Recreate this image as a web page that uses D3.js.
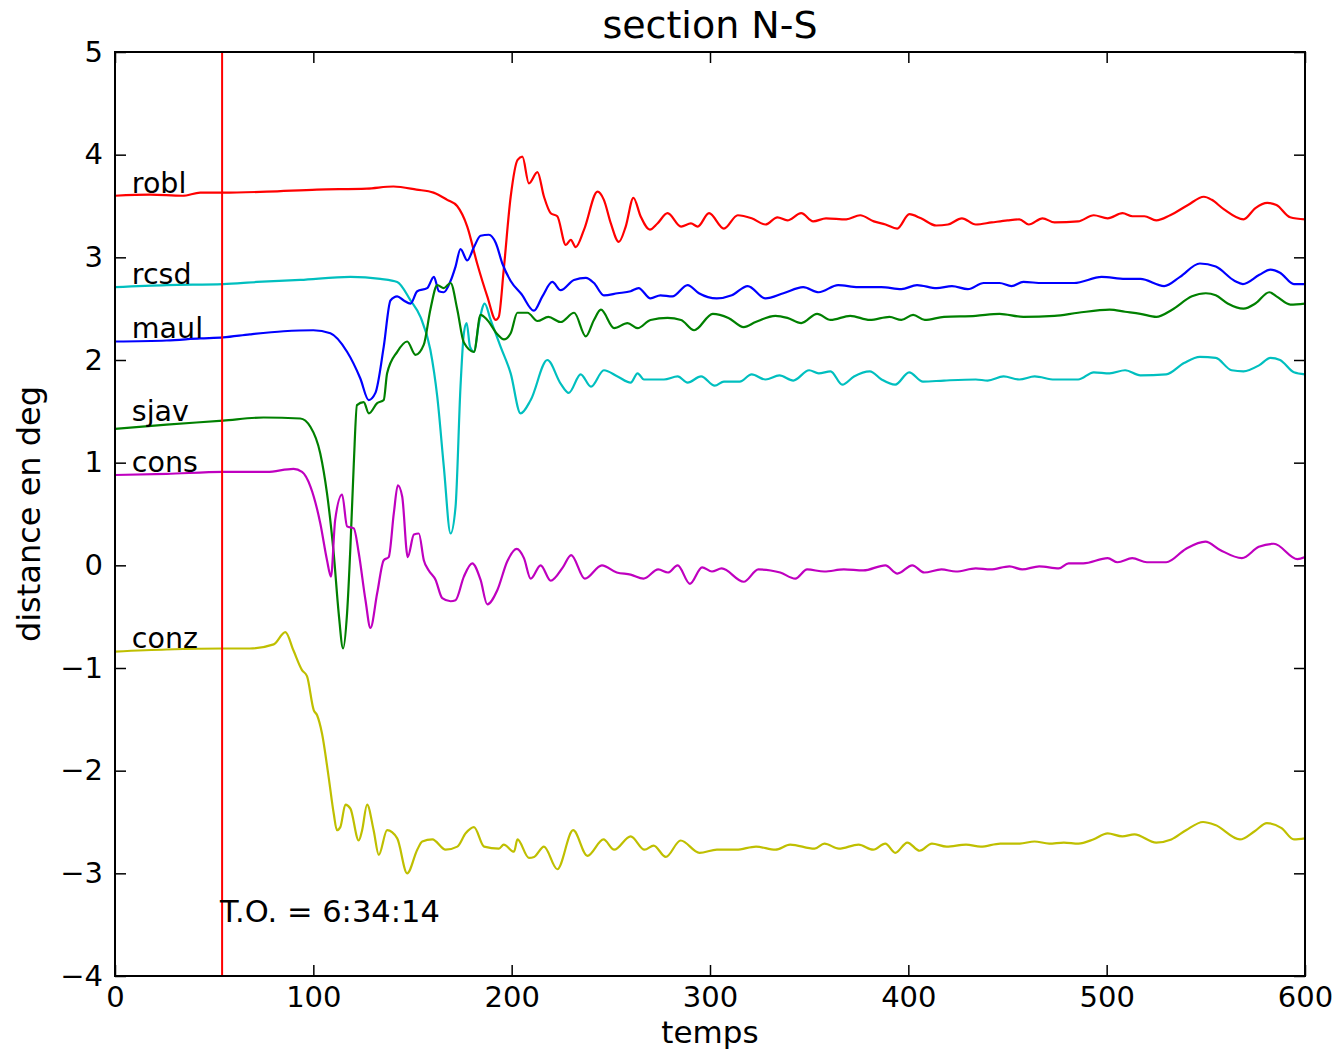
<!DOCTYPE html>
<html>
<head>
<meta charset="utf-8">
<script src="https://cdn.jsdelivr.net/npm/d3@7"></script>
<style>
  body { margin: 0; background: #fff; }
  svg { display: block; }
  text { font-family: "DejaVu Sans", sans-serif; fill: #000; }
</style>
</head>
<body>
<svg id="chart" width="1339" height="1053"></svg>
<script>
// Station names, line colours and where each name is written (distance, deg)
const stations = ["robl", "rcsd", "maul", "sjav", "cons", "conz"];
const stationColors = ["#ff0000", "#00bfbf", "#0000ff", "#008000", "#bf00bf", "#bfbf00"];
const labelY = [3.63, 2.74, 2.21, 1.41, 0.91, -0.81];
const labelX = 8.5;

// Origin time marker
const originTime = 54;
const originText = "T.O. = 6:34:14";
const originTextY = -3.47;

// Axis ticks
const xTicks = [0, 100, 200, 300, 400, 500, 600];
const yTicks = [-4, -3, -2, -1, 0, 1, 2, 3, 4, 5];

// Traces: [temps, distance en deg]
const roblTrace = [[0,3.60],[17.7,3.61],[34,3.60],[43,3.63],[54.5,3.63],[76.6,3.64],[101.8,3.66],[127,3.67],[140.4,3.69],[152,3.66],[160.6,3.63],[167.5,3.56],[172.5,3.50],[177.6,3.30],[182.6,2.94],[187.7,2.62],[192,2.39],[193.5,2.42],[196,2.88],[199.5,3.59],[203,3.95],[205.4,3.98],[208.7,3.72],[213,3.83],[216.3,3.59],[219.7,3.43],[223,3.40],[227.3,3.12],[229.8,3.17],[232.3,3.10],[236.5,3.27],[243.3,3.64],[246.5,3.56],[250,3.33],[254,3.15],[257.5,3.30],[261.4,3.58],[265,3.40],[269.7,3.27],[273.5,3.33],[278.6,3.43],[285.4,3.30],[290.4,3.33],[293.8,3.30],[299.5,3.43],[307,3.28],[314,3.41],[321,3.38],[328,3.32],[334,3.39],[339,3.36],[346,3.43],[352,3.35],[358.5,3.38],[368.7,3.37],[375.7,3.41],[382.6,3.35],[388.5,3.32],[394.4,3.28],[400.5,3.42],[406.4,3.38],[414,3.31],[420,3.32],[427,3.38],[434,3.32],[442,3.34],[450,3.36],[456,3.37],[460.7,3.32],[467.7,3.38],[473.7,3.34],[485.6,3.35],[493.5,3.41],[500.5,3.38],[508,3.43],[513,3.40],[519,3.40],[525,3.36],[532,3.41],[541,3.51],[549,3.59],[553,3.56],[559,3.47],[569,3.37],[575,3.48],[581,3.53],[585.6,3.51],[592.5,3.39],[600,3.37]];

const rcsdTrace = [[0,2.71],[26,2.73],[54.5,2.74],[71.6,2.76],[93.4,2.78],[118.7,2.81],[133.8,2.79],[142.3,2.76],[149,2.58],[154,2.42],[159,2.10],[162.5,1.64],[165.8,0.96],[169.2,0.31],[171.7,0.57],[174.2,1.74],[175.9,2.26],[177.3,2.36],[179,2.13],[181,2.08],[183.5,2.36],[186.4,2.55],[189.4,2.39],[194.4,2.13],[199.5,1.87],[204.5,1.48],[209.6,1.61],[218,2.00],[224.7,1.77],[228.8,1.68],[234.8,1.86],[240,1.74],[246.5,1.90],[253.4,1.84],[260,1.78],[263.5,1.87],[266.7,1.81],[276.8,1.81],[283.7,1.84],[288.7,1.78],[295.5,1.84],[302.4,1.75],[307,1.79],[315,1.79],[321,1.86],[328,1.81],[335,1.85],[342,1.80],[350,1.90],[354.8,1.87],[360.8,1.89],[366.7,1.76],[372.6,1.84],[380.6,1.89],[386.5,1.81],[393.4,1.76],[400.4,1.88],[407.4,1.79],[418,1.80],[434,1.81],[440,1.80],[448,1.84],[456,1.81],[463.7,1.84],[473.7,1.81],[485.6,1.81],[493.5,1.88],[501.5,1.87],[509.3,1.90],[517,1.85],[530,1.86],[539,1.97],[547,2.03],[555,2.02],[563,1.90],[569,1.89],[577,1.95],[582.6,2.02],[587.4,2.00],[594.4,1.88],[600,1.86]];

const maulTrace = [[0,2.18],[26,2.19],[43,2.21],[54.5,2.22],[68,2.25],[85,2.28],[100,2.29],[108.6,2.26],[117,2.08],[123.7,1.82],[127.9,1.61],[131.3,1.68],[135.5,2.13],[138.9,2.58],[142.3,2.62],[145.6,2.58],[149,2.55],[152.4,2.67],[157.4,2.70],[160.8,2.81],[163.3,2.67],[165.8,2.66],[169.2,2.77],[171.7,2.91],[174.2,3.08],[177.6,2.97],[181,3.10],[184.3,3.21],[188.5,3.22],[192,3.14],[195.3,2.94],[199.5,2.77],[205,2.64],[211.2,2.48],[215.5,2.62],[220.5,2.76],[224.7,2.68],[231.4,2.78],[237.4,2.80],[241.5,2.75],[246.5,2.63],[253.4,2.65],[260,2.67],[264,2.70],[270,2.60],[275,2.63],[281,2.62],[288.7,2.73],[294.4,2.65],[303.4,2.60],[311,2.63],[319,2.72],[328,2.60],[337,2.65],[347,2.71],[354.8,2.66],[364.6,2.73],[374.6,2.71],[386.4,2.71],[396.5,2.69],[404.4,2.73],[414.3,2.70],[422,2.72],[430,2.69],[438,2.75],[446,2.75],[452,2.72],[458,2.76],[467.7,2.75],[483.6,2.75],[497.5,2.81],[509.3,2.79],[517,2.79],[529,2.72],[537,2.81],[547,2.94],[555,2.91],[564.6,2.77],[568.7,2.74],[577,2.83],[582.6,2.88],[587.4,2.85],[594.4,2.74],[600,2.74]];

const sjavTrace = [[0,1.33],[26,1.37],[54.5,1.41],[74.9,1.44],[93.4,1.43],[98.5,1.35],[103.5,1.09],[106.9,0.70],[110.3,0.11],[112.8,-0.47],[115,-0.81],[117,-0.47],[118.7,0.18],[120.4,0.99],[122,1.56],[125.4,1.59],[128,1.48],[132.2,1.58],[135.5,1.61],[137.2,1.87],[142.3,2.08],[147.3,2.18],[151.5,2.05],[155.7,2.15],[159,2.49],[162.5,2.73],[165.8,2.70],[169.2,2.75],[172.6,2.49],[175.9,2.17],[181,2.08],[184.3,2.44],[187.7,2.39],[192.8,2.25],[196.1,2.20],[199.5,2.26],[202.9,2.46],[208,2.46],[213,2.38],[218.5,2.42],[224.7,2.37],[231.5,2.46],[237.4,2.23],[241.5,2.39],[245,2.49],[251.7,2.31],[258.4,2.36],[263.5,2.31],[270,2.39],[278.6,2.41],[285.4,2.39],[292,2.29],[301.4,2.45],[309.3,2.41],[317,2.32],[323,2.37],[333,2.43],[339,2.41],[346,2.36],[354,2.45],[360.8,2.39],[370.7,2.43],[380.6,2.39],[390.5,2.42],[396.5,2.39],[402.4,2.44],[408.3,2.39],[418,2.42],[434,2.43],[446,2.45],[458,2.42],[473.7,2.43],[485.6,2.46],[501.5,2.49],[509.3,2.47],[517,2.45],[525,2.42],[533,2.49],[543,2.62],[550,2.65],[555,2.63],[561,2.55],[569,2.50],[575,2.55],[582,2.66],[585.6,2.62],[592.6,2.54],[600,2.55]];

const consTrace = [[0,0.88],[26,0.89],[54.5,0.91],[76.6,0.91],[90,0.94],[94.3,0.91],[98.5,0.77],[103.5,0.41],[106.9,0.05],[108.9,-0.11],[111,0.44],[114.5,0.69],[117,0.38],[120.4,0.36],[122.9,0.12],[126.3,-0.34],[128.8,-0.61],[132.2,-0.27],[135.5,0.05],[138,0.08],[140.6,0.51],[142.6,0.78],[144.8,0.67],[147.6,0.08],[150.7,0.30],[153.2,0.31],[155.7,0.05],[158.2,-0.05],[161.6,-0.14],[165,-0.32],[169.2,-0.35],[171.7,-0.34],[175.9,-0.11],[180.1,0.02],[184.3,-0.14],[187.7,-0.38],[192.8,-0.24],[197.8,0.04],[202.5,0.16],[206.2,0.07],[209.6,-0.13],[214.6,0],[219.7,-0.15],[225.8,-0.02],[230,0.10],[236.9,-0.13],[245.5,0],[253,-0.07],[260,-0.09],[266.5,-0.13],[273.9,-0.04],[278.8,-0.07],[283.7,0],[289.9,-0.18],[296,-0.02],[301,-0.06],[305.9,-0.03],[317,-0.16],[324.4,-0.04],[330.6,-0.05],[335.4,-0.07],[343,-0.13],[349,-0.04],[357.6,-0.06],[367.5,-0.04],[377.3,-0.05],[388.4,0],[394.5,-0.08],[402,0],[408,-0.07],[416.7,-0.04],[424,-0.06],[434,-0.03],[441.4,-0.04],[451,-0.01],[457.4,-0.04],[466,-0.01],[475.9,-0.03],[480.8,0.02],[488.2,0.02],[500.5,0.07],[505.5,0.03],[512.9,0.07],[520.3,0.03],[530,0.03],[539.9,0.16],[549.8,0.23],[557.2,0.15],[568.2,0.07],[576.7,0.18],[584.3,0.21],[596.2,0.06],[600,0.08]];

const conzTrace = [[0,-0.84],[26,-0.82],[54.5,-0.81],[68,-0.81],[80,-0.77],[85.9,-0.65],[90,-0.83],[94.3,-1.02],[96.8,-1.08],[100.2,-1.41],[101.9,-1.46],[104.4,-1.64],[107.7,-2.06],[110.3,-2.42],[111.9,-2.58],[113.6,-2.55],[116.2,-2.33],[118.7,-2.37],[122.9,-2.68],[124.6,-2.58],[127.1,-2.33],[130.4,-2.58],[133,-2.82],[137.2,-2.58],[142.3,-2.66],[147.3,-3.00],[152.4,-2.77],[154.9,-2.69],[160,-2.67],[166.7,-2.77],[172.6,-2.74],[176.8,-2.61],[181,-2.55],[186.1,-2.74],[193.6,-2.76],[196,-2.72],[201.2,-2.79],[202.9,-2.67],[208.7,-2.85],[211.3,-2.84],[216.3,-2.74],[223,-2.96],[231,-2.58],[238.2,-2.83],[246.3,-2.67],[251.7,-2.77],[260,-2.64],[267,-2.77],[271.6,-2.73],[277.7,-2.84],[285.2,-2.68],[294.7,-2.80],[303.5,-2.77],[313.3,-2.77],[323.2,-2.74],[333,-2.77],[340.4,-2.72],[352.7,-2.76],[357.7,-2.71],[365,-2.76],[374.9,-2.72],[382.3,-2.77],[388.4,-2.71],[393.4,-2.80],[399.5,-2.70],[405.7,-2.78],[411.9,-2.71],[419.3,-2.74],[429.1,-2.72],[436.5,-2.74],[446.4,-2.71],[456.2,-2.71],[463.6,-2.69],[471,-2.71],[478.4,-2.70],[485.8,-2.71],[493.2,-2.67],[500.5,-2.61],[507.9,-2.64],[514,-2.62],[525,-2.70],[532.6,-2.67],[540,-2.58],[548.6,-2.50],[554.8,-2.53],[567.2,-2.67],[574.6,-2.59],[580.8,-2.51],[588.2,-2.56],[594.4,-2.67],[600,-2.66]];

const traces = [roblTrace, rcsdTrace, maulTrace, sjavTrace, consTrace, conzTrace];

// Layout
const margin = { left: 115, top: 52, right: 34, bottom: 77 };
const svg = d3.select("#chart");
const W = +svg.attr("width"), H = +svg.attr("height");
const plotW = W - margin.left - margin.right;
const plotH = H - margin.top - margin.bottom;

const x = d3.scaleLinear().domain([0, 600]).range([0, plotW]);
const y = d3.scaleLinear().domain([-4, 5]).range([plotH, 0]);

const g = svg.append("g").attr("transform", `translate(${margin.left},${margin.top})`);

svg.append("defs").append("clipPath").attr("id", "plot-clip")
  .append("rect").attr("width", plotW).attr("height", plotH);

const fmt = d => (d < 0 ? "\u2212" + Math.abs(d) : String(d));
const tickLen = 11;

// Seismogram traces
const line = d3.line().x(d => x(d[0])).y(d => y(d[1])).curve(d3.curveMonotoneX);
const traceLayer = g.append("g").attr("clip-path", "url(#plot-clip)");
traces.forEach((tr, i) => {
  traceLayer.append("path")
    .datum(tr)
    .attr("d", line)
    .attr("fill", "none")
    .attr("stroke", stationColors[i])
    .attr("stroke-width", 2.2)
    .attr("stroke-linejoin", "round");
});

// Origin time line
traceLayer.append("line")
  .attr("x1", x(originTime)).attr("x2", x(originTime))
  .attr("y1", 0).attr("y2", plotH)
  .attr("stroke", "#ff0000").attr("stroke-width", 2);

// Station names
stations.forEach((s, i) => {
  g.append("text")
    .attr("x", x(labelX)).attr("y", y(labelY[i]))
    .attr("font-size", 28.5)
    .text(s);
});

g.append("text")
  .attr("x", x(originTime) - 2).attr("y", y(originTextY))
  .attr("font-size", 30.5)
  .text(originText);

// Axes with inward ticks on all four sides
const styleAxis = sel => {
  sel.select(".domain").remove();
  sel.selectAll(".tick line").attr("stroke", "#000").attr("stroke-width", 1.5);
  sel.selectAll("text").attr("font-family", "DejaVu Sans, sans-serif").attr("font-size", 29).attr("fill", "#000");
};

g.append("g").attr("transform", `translate(0,${plotH})`)
  .call(d3.axisBottom(x).tickValues(xTicks).tickFormat(fmt).tickSize(-tickLen).tickPadding(10))
  .call(styleAxis);
g.append("g")
  .call(d3.axisTop(x).tickValues(xTicks).tickFormat("").tickSize(-tickLen))
  .call(styleAxis);
g.append("g")
  .call(d3.axisLeft(y).tickValues(yTicks).tickFormat(fmt).tickSize(-tickLen).tickPadding(12))
  .call(styleAxis);
g.append("g").attr("transform", `translate(${plotW},0)`)
  .call(d3.axisRight(y).tickValues(yTicks).tickFormat("").tickSize(-tickLen))
  .call(styleAxis);

// Frame
g.append("rect")
  .attr("width", plotW).attr("height", plotH)
  .attr("fill", "none").attr("stroke", "#000").attr("stroke-width", 2);

// Title and axis labels
svg.append("text")
  .attr("x", margin.left + plotW / 2).attr("y", 38)
  .attr("text-anchor", "middle").attr("font-size", 38)
  .text("section N-S");

svg.append("text")
  .attr("x", margin.left + plotW / 2).attr("y", 1043)
  .attr("text-anchor", "middle").attr("font-size", 31)
  .text("temps");

svg.append("text")
  .attr("transform", `translate(40,${margin.top + plotH / 2}) rotate(-90)`)
  .attr("text-anchor", "middle").attr("font-size", 32)
  .text("distance en deg");
</script>
</body>
</html>
